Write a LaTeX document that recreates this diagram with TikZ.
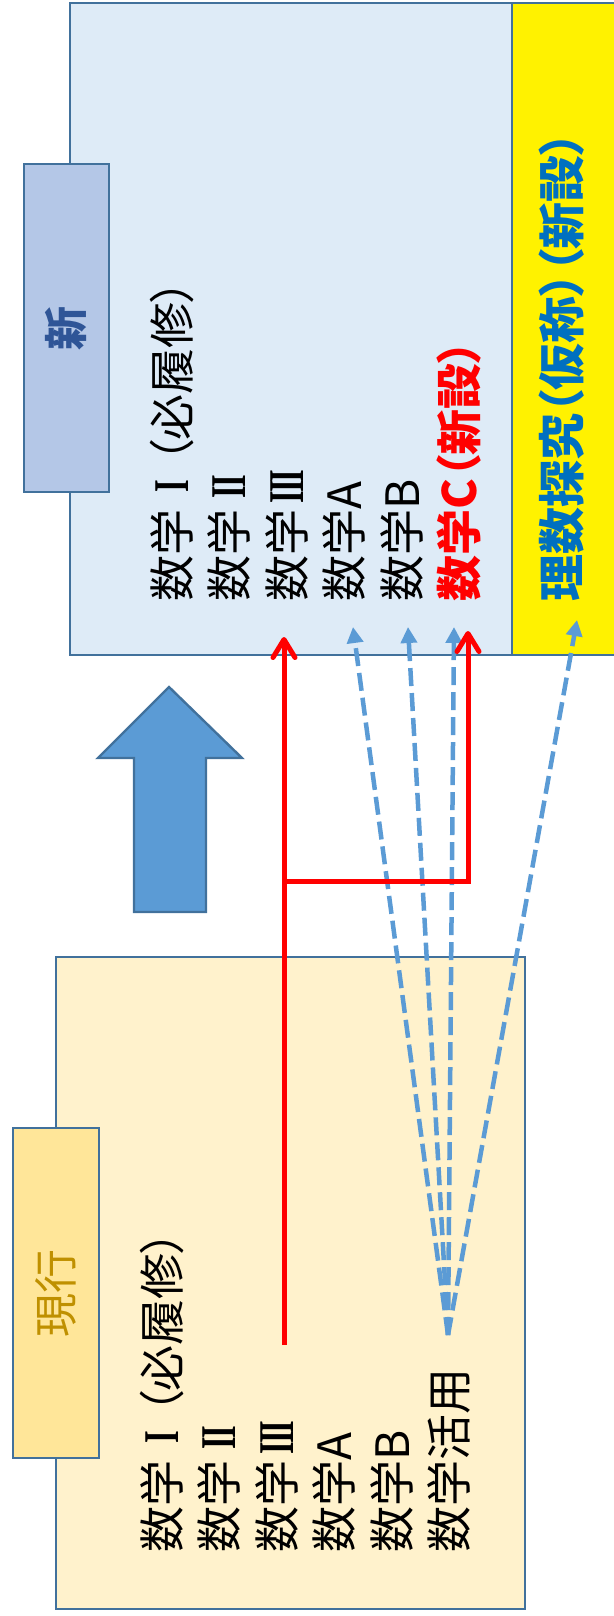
\documentclass[tikz,border=0pt]{standalone}
\usepackage{fontspec}
\newfontfamily\jp[RawFeature=+palt]{Noto Sans CJK JP}
\newfontfamily\serifnum{Liberation Serif}
\newcommand\romnum[1]{\makebox[1em]{\raisebox{0.4pt}{\scalebox{0.65}[1]{\serifnum\bfseries\fontsize{25pt}{25pt}\selectfont #1}}}}
\usetikzlibrary{arrows.meta}
\definecolor{newfill}{HTML}{DEEBF7}
\definecolor{newtab}{HTML}{B4C7E7}
\definecolor{newtext}{HTML}{2F5597}
\definecolor{oldfill}{HTML}{FFF2CC}
\definecolor{oldtab}{HTML}{FFE699}
\definecolor{oldtext}{HTML}{BF9000}
\definecolor{frame}{HTML}{41719C}
\definecolor{accent}{HTML}{5B9BD5}
\definecolor{riblue}{HTML}{0070C0}

\begin{document}
\begin{tikzpicture}[x=0.5pt,y=-0.5pt,
  box/.style={draw=frame,line width=1.2pt},
  tabbox/.style={draw=frame,line width=1.2pt,rotate=90,inner sep=0pt,
    minimum width=164pt,minimum height=42.5pt},
  subject/.style={rotate=90,anchor=west,inner sep=0pt,text height=20pt,
    text depth=3pt,font=\jp\fontsize{23pt}{23pt}\selectfont},
  shift line/.style={red,line width=2.5pt,
    -{Straight Barb[length=9pt,width=11pt,round]}},
  choice line/.style={accent,line width=2.25pt,dash pattern=on 9pt off 3.5pt,
    -{Triangle[length=8pt,width=8pt]}}]
  \useasboundingbox (0,0) rectangle (614,1616);

  % new course
  \draw[box,fill=newfill] (70,3) rectangle (512,655);
  \draw[box,fill=yellow] (512,3) rectangle (640,655);
  \node[tabbox,fill=newtab,text=newtext,
    font=\jp\bfseries\fontsize{22pt}{22pt}\selectfont] (shin) at (66.5,328) {新};
  \node[subject] (n1) at (172,602) {数学\romnum{I}（必履修）};
  \node[subject] (n2) at (229.5,602) {数学\romnum{I\kern-0.06em I}};
  \node[subject] (n3) at (287,602) {数学\romnum{I\kern-0.06em I\kern-0.06em I}};
  \node[subject] (n4) at (344.5,602) {数学A};
  \node[subject] (n5) at (402,602) {数学B};
  \node[subject,red,font=\jp\bfseries\fontsize{23pt}{23pt}\selectfont]
    (n6) at (459.5,602) {数学C（新設）};
  \node[subject,riblue,font=\jp\bfseries\fontsize{23.5pt}{23.5pt}\selectfont]
    (ri) at (562,602) {理数探究（仮称）（新設）};

  % current course
  \draw[box,fill=oldfill] (56,957) rectangle (525,1609);
  \node[tabbox,fill=oldtab,text=oldtext,minimum width=165pt,minimum height=43pt,
    font=\jp\fontsize{22pt}{22pt}\selectfont] (genko) at (56,1293) {現行};
  \node[subject] (o1) at (162,1553) {数学\romnum{I}（必履修）};
  \node[subject] (o2) at (219.5,1553) {数学\romnum{I\kern-0.06em I}};
  \node[subject] (o3) at (277,1553) {数学\romnum{I\kern-0.06em I\kern-0.06em I}};
  \node[subject] (o4) at (334.5,1553) {数学A};
  \node[subject] (o5) at (392,1553) {数学B};
  \node[subject] (o6) at (449.5,1553) {数学活用};

  % big arrow
  \draw[box,fill=accent] (169,687) -- (242,758) -- (206,758) -- (206,912)
    -- (134,912) -- (134,758) -- (98,758) -- cycle;

  \coordinate (katsuyo) at (448,1335);
  \coordinate (toA) at (353,627);
  \coordinate (toB) at (408,627);
  \coordinate (toC) at (454,627);
  \coordinate (toRi) at (577,620);
  \path[choice line] (katsuyo) edge (toA) edge (toB) edge (toC) edge (toRi);

  \coordinate (fromIII) at (284,1345);
  \coordinate (fork) at (284,881);
  \coordinate (toIII) at (284,637);
  \coordinate (toNewC) at (468,631);
  \draw[shift line] (fromIII) -- (toIII);
  \draw[shift line] (fork) -| (toNewC);
\end{tikzpicture}
\end{document}
